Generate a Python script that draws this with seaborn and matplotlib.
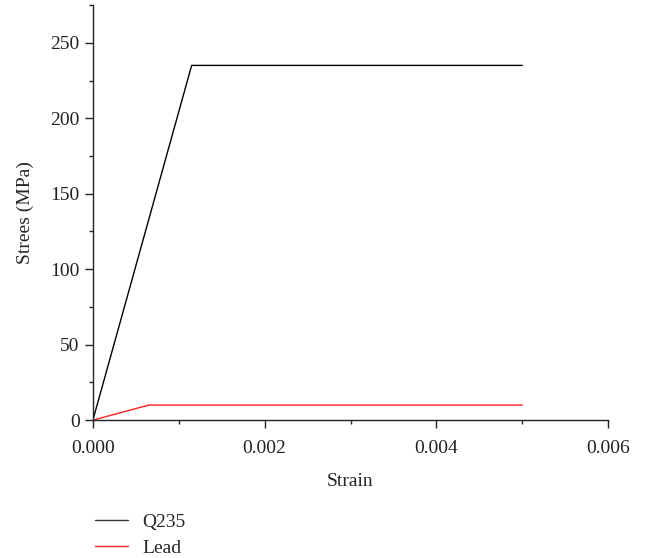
import numpy as np
import pandas as pd
import matplotlib.pyplot as plt
import seaborn as sns
from matplotlib.ticker import MultipleLocator

# stress-strain points (bilinear model)
q235_strain = [0.0, 0.00115, 0.005]
q235_stress = [0, 235, 235]
lead_strain = [0.0, 0.00065, 0.005]
lead_stress = [0, 10, 10]

df = pd.concat([
    pd.DataFrame({'Strain': q235_strain, 'Stress': q235_stress, 'Material': 'Q235'}),
    pd.DataFrame({'Strain': lead_strain, 'Stress': lead_stress, 'Material': 'Lead'}),
])

sns.set_style('ticks')
plt.rcParams['font.family'] = ['Liberation Serif', 'DejaVu Serif']
plt.rcParams['font.size'] = 14

fig = plt.figure(figsize=(6.45, 5.58), dpi=100)
ax = fig.add_axes([0.144, 0.247, 0.799, 0.744])

sns.lineplot(data=df, x='Strain', y='Stress', hue='Material',
             palette={'Q235': 'black', 'Lead': '#ff2020'},
             linewidth=1.0, sort=False, estimator=None, ax=ax, legend=False)

ax.set_xlim(0, 0.006)
ax.set_ylim(0, 275)
ax.xaxis.set_major_locator(MultipleLocator(0.002))
ax.xaxis.set_minor_locator(MultipleLocator(0.001))
ax.yaxis.set_major_locator(MultipleLocator(50))
ax.yaxis.set_minor_locator(MultipleLocator(25))
ax.xaxis.set_major_formatter(lambda v, p: f'{v:.3f}')
ax.tick_params(which='major', length=6, width=1, labelsize=14, colors='#222222')
ax.tick_params(which='minor', length=3, width=1)
ax.tick_params(axis='x', which='major', pad=8)
ax.set_xlabel('Strain', fontsize=14, labelpad=12)
ax.set_ylabel('Strees (MPa)', fontsize=14, labelpad=12)
sns.despine(ax=ax)
for s in ['left', 'bottom']:
    ax.spines[s].set_linewidth(1)
    ax.spines[s].set_color('#222222')

handles = [plt.Line2D([], [], color='#333333', lw=1),
           plt.Line2D([], [], color='#ff2020', lw=1)]
fig.legend(handles, ['Q235', 'Lead'], loc='lower left',
           bbox_to_anchor=(0.12, -0.03), frameon=False, fontsize=14,
           handlelength=1.7, handletextpad=0.75, labelspacing=0.45)

fig.savefig('out.png', dpi=100)
